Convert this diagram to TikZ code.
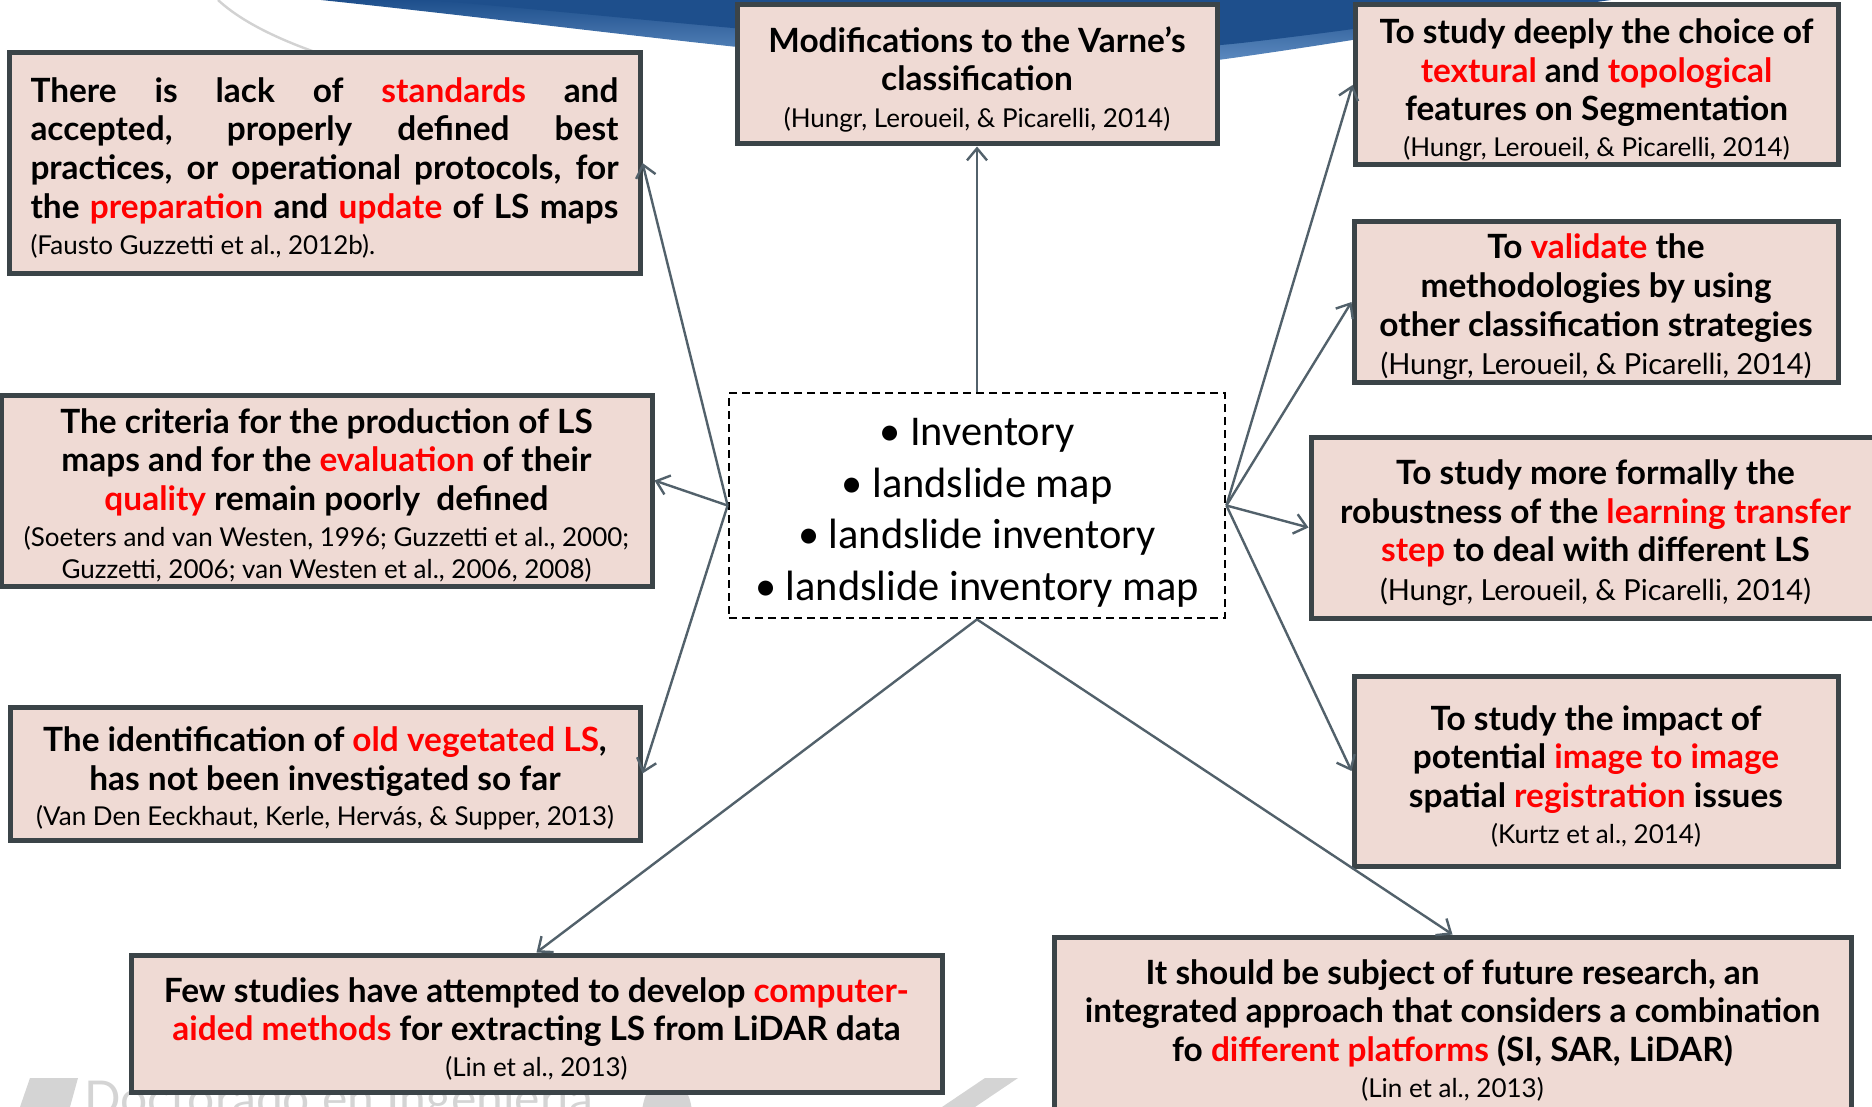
\documentclass[tikz,border=0pt]{standalone}
\usepackage{fontspec}
\setmainfont{Lato}
\newfontfamily\calfont{Carlito}
\usetikzlibrary{arrows.meta,calc}
\definecolor{boxfill}{HTML}{EFDAD4}
\definecolor{boxline}{HTML}{3B4448}
\definecolor{arrowc}{HTML}{52616B}
\definecolor{redt}{HTML}{FF0000}
\definecolor{bluedark}{HTML}{1E4F8C}
\definecolor{bluelight}{HTML}{7AA6D8}
\definecolor{wmgrey}{HTML}{D4D4D4}
\newcommand\redw[1]{\textcolor{redt}{#1}}
\newcommand\bfsz{\fontsize{16.7}{19.3}\selectfont\bfseries}
\newcommand\citesm{\fontsize{13}{16.5}\selectfont\mdseries}
\newcommand\citelg{\fontsize{14.5}{17}\selectfont\mdseries}
\newcommand\jline[1]{\makebox[294pt][s]{#1}}
\newcommand\tstrut{\rule{0pt}{17.5pt}}
\begin{document}
\begin{tikzpicture}[x=0.5pt,y=-0.5pt,
  infobox/.style={draw=boxline, line width=2.5pt, fill=boxfill, align=center, inner sep=0pt, font=\bfsz},
  hub/.style={draw=black, line width=1.4pt, dash pattern=on 4pt off 2.5pt, fill=white, align=center, inner sep=0pt, font=\calfont\fontsize{21.2}{25.8}\selectfont},
  link/.style={draw=arrowc, line width=1.2pt, -{Straight Barb[length=6pt,width=10pt]}}]
\useasboundingbox (0,0) rectangle (1872,1107);
\clip (0,0) rectangle (1872,1107);
\fill[white] (0,0) rectangle (1872,1107);
% background swoosh
\shade[top color=bluedark, bottom color=bluelight] (321,0) .. controls (700,40) and (1000,90) .. (1218,60) .. controls (1350,42) and (1500,15) .. (1611,0) -- cycle;
\fill[bluedark] (430,0) .. controls (750,28) and (1050,66) .. (1250,42) .. controls (1380,27) and (1480,10) .. (1560,0) -- cycle;
\draw[gray!35, line width=1.2pt] (218,0) .. controls (245,25) and (290,45) .. (345,62);
% watermark
\fill[wmgrey] (30,1078) -- (78,1078) -- (70,1107) -- (20,1107) -- cycle;
\node[anchor=base west, inner sep=0pt, text=wmgrey, font=\fontsize{24}{28}\selectfont] (wm) at (84,1115) {Doctorado en Ingeniería};
\fill[wmgrey] (667,1115) ellipse [x radius=25, y radius=37];
\fill[wmgrey] (985,1078) -- (1018,1078) -- (975,1107) -- (942,1107) -- cycle;
% boxes
\node[infobox, minimum width=315.5pt, minimum height=110pt] (A) at (324.5,163)
 {\tstrut\jline{There is lack of \redw{standards} and}\\\jline{accepted, properly defined best}\\\jline{practices, or operational protocols, for}\\\jline{the \redw{preparation} and \redw{update} of LS maps}\\[-1pt]{\citesm\makebox[294pt][l]{(Fausto Guzzetti et al., 2012b).}}};
\node[infobox, minimum width=240pt, minimum height=69.5pt] (B) at (977,74.5)
 {\tstrut Modifications to the Varne’s\\classification\\[-1pt]{\citesm (Hungr, Leroueil, \& Picarelli, 2014)}};
\node[infobox, minimum width=241.5pt, minimum height=80pt] (C) at (1596.5,85)
 {\tstrut To study deeply the choice of\\\redw{textural} and \redw{topological}\\features on Segmentation\\[-1.5pt]{\citesm (Hungr, Leroueil, \& Picarelli, 2014)}};
\node[infobox, minimum width=242pt, minimum height=80pt] (D) at (1596,302)
 {\tstrut To \redw{validate} the\\methodologies by using\\other classification strategies\\{\citelg (Hungr, Leroueil, \& Picarelli, 2014)}};
\node[infobox, minimum width=284.5pt, minimum height=90.5pt] (E) at (1595.5,527.5)
 {\tstrut To study more formally the\\robustness of the \redw{learning transfer}\\\redw{step} to deal with different LS\\{\citelg (Hungr, Leroueil, \& Picarelli, 2014)}};
\node[infobox, minimum width=242pt, minimum height=95pt] (F) at (1596,771)
 {\tstrut To study the impact of\\potential \redw{image to image}\\spatial \redw{registration} issues\\[-1.5pt]{\citesm (Kurtz et al., 2014)}};
\node[infobox, minimum width=398.5pt, minimum height=88pt] (G) at (1452.5,1025)
 {\tstrut It should be subject of future research, an\\integrated approach that considers a combination\\fo \redw{different platforms} (SI, SAR, LiDAR)\\[-1.5pt]{\citesm (Lin et al., 2013)}};
\node[infobox, minimum width=405.5pt, minimum height=68.5pt] (H) at (536.5,1023.5)
 {\tstrut Few studies have attempted to develop \redw{computer-}\\\redw{aided methods} for extracting LS from LiDAR data\\[-1.5pt]{\citesm (Lin et al., 2013)}};
\node[infobox, minimum width=315pt, minimum height=66.5pt] (I) at (325,773.5)
 {\tstrut The identification of \redw{old vegetated LS},\\has not been investigated so far\\[-1.5pt]{\citesm (Van Den Eeckhaut, Kerle, Hervás, \& Supper, 2013)}};
\node[infobox, minimum width=325.5pt, minimum height=95.5pt] (J) at (326.5,490.5)
 {\tstrut The criteria for the production of LS\\maps and for the \redw{evaluation} of their\\\redw{quality} remain poorly\ \ defined\\[-1.5pt]{\citesm (Soeters and van Westen, 1996; Guzzetti et al., 2000;}\\[-3pt]{\citesm Guzzetti, 2006; van Westen et al., 2006, 2008)}};
\node[hub, minimum width=248pt, minimum height=112.5pt] (hub) at (977,505.5)
 {\rule{0pt}{21pt}• Inventory\\• landslide map\\• landslide inventory\\• landslide inventory map};
% connectors
\draw[link] (hub.north) -- (B.south);
\draw[link] (hub.west) -- (A.east);
\draw[link] (hub.west) -- ($(J.east)+(0,-10)$);
\draw[link] (hub.west) -- (I.east);
\draw[link] (hub.south) -- (H.north);
\draw[link] (hub.south) -- (G.north);
\draw[link] (hub.east) -- (C.west);
\draw[link] (hub.east) -- (D.west);
\draw[link] (hub.east) -- (E.west);
\draw[link] (hub.east) -- (F.west);
\end{tikzpicture}
\end{document}
